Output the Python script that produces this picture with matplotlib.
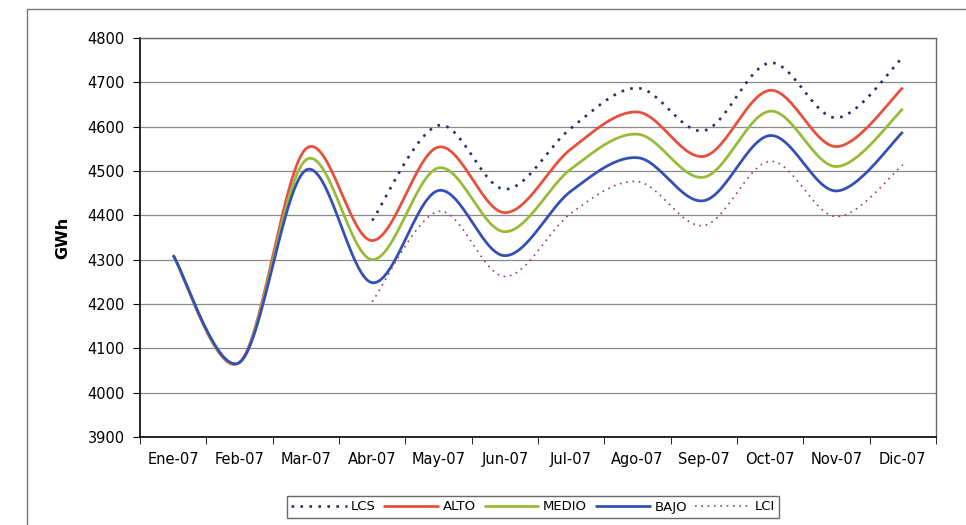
import numpy as np
import matplotlib
matplotlib.use("Agg")
import matplotlib.pyplot as plt
from matplotlib.patches import Rectangle

plt.rcParams['font.family'] = ['DejaVu Sans']

months = ["Ene-07", "Feb-07", "Mar-07", "Abr-07", "May-07", "Jun-07",
          "Jul-07", "Ago-07", "Sep-07", "Oct-07", "Nov-07", "Dic-07"]
nan = np.nan
lcs = [nan, nan, nan, 4388, 4603, 4459, 4597, 4687, 4591, 4744, 4620, 4757]
alto = [4310, 4068, 4550, 4343, 4554, 4406, 4550, 4633, 4533, 4682, 4555, 4688]
medio = [4310, 4068, 4525, 4300, 4507, 4363, 4505, 4583, 4486, 4635, 4510, 4640]
bajo = [4310, 4068, 4502, 4248, 4456, 4309, 4455, 4530, 4433, 4580, 4455, 4588]
lci = [nan, nan, nan, 4205, 4409, 4262, 4405, 4476, 4377, 4522, 4397, 4514]

series = [
    ("LCS", lcs, "#26306e", (0, (1, 2.4)), 1.9),
    ("ALTO", alto, "#e8503e", "-", 2.0),
    ("MEDIO", medio, "#98bc3a", "-", 2.0),
    ("BAJO", bajo, "#3550b5", "-", 2.0),
    ("LCI", lci, "#9a3a7a", (0, (1, 2.8)), 1.2),
]


def smooth(xs, ys, n=30):
    xs = np.asarray(xs, float)
    ys = np.asarray(ys, float)
    ox, oy = [], []
    m = len(xs)
    t = np.linspace(0, 1, n)
    for i in range(m - 1):
        p0 = np.array([xs[max(i - 1, 0)], ys[max(i - 1, 0)]])
        p1 = np.array([xs[i], ys[i]])
        p2 = np.array([xs[i + 1], ys[i + 1]])
        p3 = np.array([xs[min(i + 2, m - 1)], ys[min(i + 2, m - 1)]])
        c1 = p1 + (p2 - p0) / 6.0
        c2 = p2 - (p3 - p1) / 6.0
        b = ((1 - t) ** 3)[:, None] * p1 + (3 * (1 - t) ** 2 * t)[:, None] * c1 \
            + (3 * (1 - t) * t ** 2)[:, None] * c2 + (t ** 3)[:, None] * p2
        ox.extend(b[:, 0]); oy.extend(b[:, 1])
    return np.array(ox), np.array(oy)


fig = plt.figure(figsize=(9.66, 5.25), dpi=100)
# outer chart frame
fig.patches.append(Rectangle((27 / 966, -0.05), 1.2, 1 - 9 / 525 + 0.05,
                             transform=fig.transFigure, fill=False,
                             edgecolor="#777777", linewidth=1.0))

ax = fig.add_axes([140 / 966, 1 - 437 / 525, (936 - 140) / 966, (437 - 38) / 525])
ax.set_xlim(-0.5, len(months) - 0.5)
ax.set_ylim(3900, 4800)
ax.set_yticks(np.arange(3900, 4801, 100))
ax.yaxis.grid(True, color="#8a8a8a", linewidth=0.9)
ax.set_axisbelow(True)

x = np.arange(len(months))
for name, vals, color, ls, lw in series:
    v = np.asarray(vals, float)
    mask = ~np.isnan(v)
    sx, sy = smooth(x[mask], v[mask])
    ax.plot(sx, sy, color=color, linestyle=ls, linewidth=lw, label=name,
            solid_capstyle="butt")

ax.set_xticks(x)
ax.set_xticklabels(months)
ax.set_xticks(np.arange(-0.5, len(months)), minor=True)
ax.tick_params(axis="x", which="major", length=0, pad=11, labelsize=10.5)
ax.tick_params(axis="x", which="minor", length=5, direction="out", color="black")
ax.tick_params(axis="y", length=5, direction="out", labelsize=10.5, pad=6)

for s in ["left", "bottom"]:
    ax.spines[s].set_color("black")
    ax.spines[s].set_linewidth(1.2)
for s in ["top", "right"]:
    ax.spines[s].set_color("#666666")
    ax.spines[s].set_linewidth(1.0)

ax.set_ylabel("GWh", fontsize=11.5, fontweight="bold", labelpad=12)

leg = fig.legend(loc="center", bbox_to_anchor=(533 / 966, 1 - 507 / 525), ncol=5,
                 frameon=True, fancybox=False, edgecolor="#444444",
                 fontsize=9.5, handlelength=4.2, handletextpad=0.3,
                 columnspacing=0.6, borderpad=0.35)
leg.get_frame().set_linewidth(1.0)

fig.savefig("out.png", dpi=100)
